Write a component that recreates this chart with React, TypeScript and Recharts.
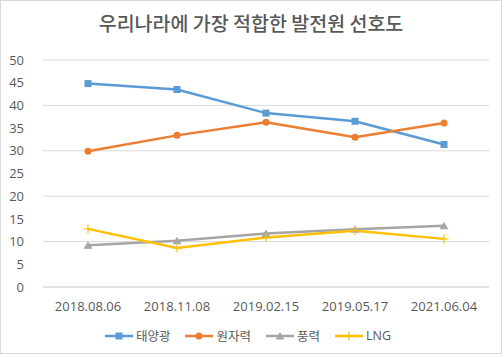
import React from 'react';
import { LineChart, Line, XAxis, YAxis, CartesianGrid, Legend } from 'recharts';

// 조사 시점
const dates = ['2018.08.06', '2018.11.08', '2019.02.15', '2019.05.17', '2021.06.04'];

// 발전원별 선호도 (%)
const solar = [44.8, 43.5, 38.3, 36.5, 31.4];
const nuclear = [29.9, 33.4, 36.3, 33.0, 36.1];
const wind = [9.2, 10.2, 11.8, 12.7, 13.5];
const lng = [12.8, 8.6, 10.9, 12.4, 10.6];

const yTicks = [0, 5, 10, 15, 20, 25, 30, 35, 40, 45, 50];

const data = dates.map((d, i) => ({
  date: d,
  solar: solar[i],
  nuclear: nuclear[i],
  wind: wind[i],
  lng: lng[i],
}));

const FONT = "'Open Sans', 'Noto Sans CJK KR', sans-serif";
const TEXT = '#595959';

type Marker = 'square' | 'circle' | 'triangle' | 'plus';

const series: { key: string; name: string; color: string; marker: Marker }[] = [
  { key: 'solar', name: '태양광', color: '#5B9BD5', marker: 'square' },
  { key: 'nuclear', name: '원자력', color: '#ED7D31', marker: 'circle' },
  { key: 'wind', name: '풍력', color: '#A5A5A5', marker: 'triangle' },
  { key: 'lng', name: 'LNG', color: '#FFC000', marker: 'plus' },
];

function drawMarker(marker: Marker, cx: number, cy: number, color: string, key?: string) {
  if (marker === 'square') {
    return <rect key={key} x={cx - 3.5} y={cy - 3.5} width={7} height={7} fill={color} />;
  }
  if (marker === 'circle') {
    return <circle key={key} cx={cx} cy={cy} r={3.5} fill={color} />;
  }
  if (marker === 'triangle') {
    return (
      <polygon
        key={key}
        points={`${cx},${cy - 4} ${cx + 4.5},${cy + 3.5} ${cx - 4.5},${cy + 3.5}`}
        fill={color}
      />
    );
  }
  return (
    <g key={key}>
      <line x1={cx - 4.5} y1={cy} x2={cx + 4.5} y2={cy} stroke={color} strokeWidth={1.2} />
      <line x1={cx} y1={cy - 4.5} x2={cx} y2={cy + 4.5} stroke={color} strokeWidth={1.2} />
    </g>
  );
}

const makeDot = (marker: Marker, color: string) => (props: any) => {
  const { cx, cy, index } = props;
  if (cx == null || cy == null) return <g key={index} />;
  return drawMarker(marker, cx, cy, color, `dot-${index}`);
};

function LegendContent() {
  return (
    <div
      style={{
        display: 'flex',
        justifyContent: 'center',
        gap: 15,
        fontFamily: FONT,
        fontSize: 12.5,
        color: TEXT,
        marginLeft: -6,
      }}
    >
      {series.map((s) => (
        <div key={s.key} style={{ display: 'flex', alignItems: 'center', gap: 3 }}>
          <svg width={28} height={12}>
            <line x1={0} y1={6} x2={28} y2={6} stroke={s.color} strokeWidth={2.5} />
            {drawMarker(s.marker, 14, 6, s.color)}
          </svg>
          <span>{s.name}</span>
        </div>
      ))}
    </div>
  );
}

export default function App() {
  return (
    <div style={{ position: 'absolute', left: 0, top: 0, width: 502, height: 354, background: '#fff' }}>
      <div
        style={{
          position: 'absolute',
          left: 0,
          top: 0,
          width: 502,
          height: 354,
          border: '1px solid #d9d9d9',
          boxSizing: 'border-box',
          pointerEvents: 'none',
        }}
      />
      <div
        style={{
          position: 'absolute',
          top: 10,
          left: 0,
          width: 502,
          textAlign: 'center',
          fontFamily: "'Noto Sans CJK KR', sans-serif",
          fontSize: 19.5,
          lineHeight: '26px',
          fontWeight: 500,
          color: TEXT,
        }}
      >
        우리나라에 가장 적합한 발전원 선호도
      </div>
      <LineChart
        width={502}
        height={354}
        data={data}
        margin={{ top: 60, right: 13, bottom: 37, left: 13 }}
      >
        <CartesianGrid vertical={false} stroke="#d9d9d9" strokeWidth={1} />
        <XAxis
          dataKey="date"
          height={30}
          padding={{ left: 45, right: 45 }}
          axisLine={{ stroke: '#d9d9d9' }}
          tickLine={false}
          tickSize={0}
          tickMargin={15}
          tick={{ fill: TEXT, fontSize: 13, fontFamily: FONT }}
          interval={0}
        />
        <YAxis
          width={30}
          domain={[0, 50]}
          ticks={yTicks}
          axisLine={false}
          tickLine={false}
          tickSize={0}
          tickMargin={19}
          tick={{ fill: TEXT, fontSize: 13, fontFamily: FONT }}
        />
        <Legend
          verticalAlign="middle"
          layout="horizontal"
          align="center"
          wrapperStyle={{ top: 326, left: 0, width: 502 }}
          content={() => <LegendContent />}
        />
        {series.map((s) => (
          <Line
            key={s.key}
            dataKey={s.key}
            name={s.name}
            type="linear"
            stroke={s.color}
            strokeWidth={2.5}
            dot={makeDot(s.marker, s.color)}
            activeDot={false}
            isAnimationActive={false}
          />
        ))}
      </LineChart>
    </div>
  );
}
